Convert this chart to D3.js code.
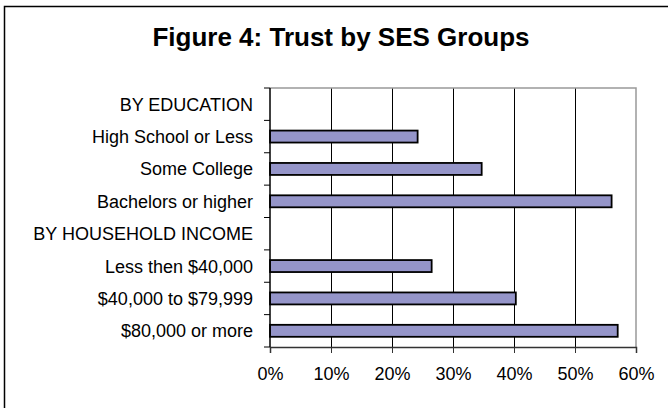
<!DOCTYPE html>
<html>
<head>
<meta charset="utf-8">
<script src="https://cdn.jsdelivr.net/npm/d3@7"></script>
<style>
  body { margin: 0; background: #fff; }
  text { font-family: Arial, "Liberation Sans", sans-serif; fill: #000; }
</style>
</head>
<body>
<script>
// Chart data
const categories = [
  "BY EDUCATION",
  "High School or Less",
  "Some College",
  "Bachelors or higher",
  "BY HOUSEHOLD INCOME",
  "Less then $40,000",
  "$40,000 to $79,999",
  "$80,000 or more"
];
const trust = [null, 24.2, 34.7, 56.0, null, 26.5, 40.3, 57.0];
const xTicks = [0, 10, 20, 30, 40, 50, 60];
const title = "Figure 4: Trust by SES Groups";

const W = 668, H = 408;
const plot = { left: 270, right: 636, top: 88, bottom: 347 };

const svg = d3.select("body").append("svg")
  .attr("width", W)
  .attr("height", H);

// outer frame (runs off the right and bottom edges)
svg.append("rect")
  .attr("x", 4.5).attr("y", 6.5)
  .attr("width", W).attr("height", H)
  .attr("fill", "none").attr("stroke", "#000").attr("stroke-width", 1.5);

svg.append("text")
  .attr("x", 341).attr("y", 46)
  .attr("text-anchor", "middle")
  .style("font-size", "26px").style("font-weight", "bold")
  .text(title);

// scales
const x = d3.scaleLinear().domain([0, 60]).range([plot.left, plot.right]);
const y = d3.scaleBand().domain(categories).range([plot.top, plot.bottom]).padding(0);
const barH = y.bandwidth() * 0.37;

// gridlines
svg.append("g")
  .selectAll("line")
  .data(xTicks.filter(t => t > 0 && t < 60))
  .join("line")
  .attr("x1", d => Math.round(x(d)) + 0.5).attr("x2", d => Math.round(x(d)) + 0.5)
  .attr("y1", plot.top).attr("y2", plot.bottom)
  .attr("stroke", "#000").attr("stroke-width", 1);

// plot border top/right (gray)
svg.append("path")
  .attr("d", `M${plot.left},${plot.top}H${plot.right}V${plot.bottom}`)
  .attr("fill", "none").attr("stroke", "#999").attr("stroke-width", 1.5);

// bars
svg.append("g")
  .selectAll("rect")
  .data(categories.map((c, i) => ({ cat: c, v: trust[i] })).filter(d => d.v != null))
  .join("rect")
  .attr("x", x(0))
  .attr("y", d => y(d.cat) + (y.bandwidth() - barH) / 2)
  .attr("width", d => x(d.v) - x(0))
  .attr("height", barH)
  .attr("fill", "#9595C9")
  .attr("stroke", "#000")
  .attr("stroke-width", 1.8);

// x axis
const xaxis = d3.axisBottom(x)
  .tickValues(xTicks)
  .tickFormat(d => d + "%")
  .tickSize(6)
  .tickPadding(14);
const gx = svg.append("g")
  .attr("transform", `translate(0,${plot.bottom})`)
  .call(xaxis);
gx.select(".domain").attr("stroke", "#333").attr("stroke-width", 1.5);
gx.selectAll(".tick line").attr("stroke", "#333");
gx.selectAll("text").style("font-size", "18px").attr("font-family", null);

// y axis: line + ticks at band boundaries
svg.append("line")
  .attr("x1", plot.left).attr("x2", plot.left)
  .attr("y1", plot.top).attr("y2", plot.bottom)
  .attr("stroke", "#000").attr("stroke-width", 1.5);
const bounds = categories.map(c => y(c)).concat([plot.bottom]);
svg.append("g")
  .selectAll("line")
  .data(bounds)
  .join("line")
  .attr("x1", plot.left - 6).attr("x2", plot.left)
  .attr("y1", d => d).attr("y2", d => d)
  .attr("stroke", "#000");

// category labels
svg.append("g")
  .selectAll("text")
  .data(categories)
  .join("text")
  .attr("x", 253)
  .attr("y", d => y(d) + y.bandwidth() / 2)
  .attr("dy", "0.36em")
  .attr("text-anchor", "end")
  .style("font-size", "18px")
  .text(d => d);
</script>
</body>
</html>
